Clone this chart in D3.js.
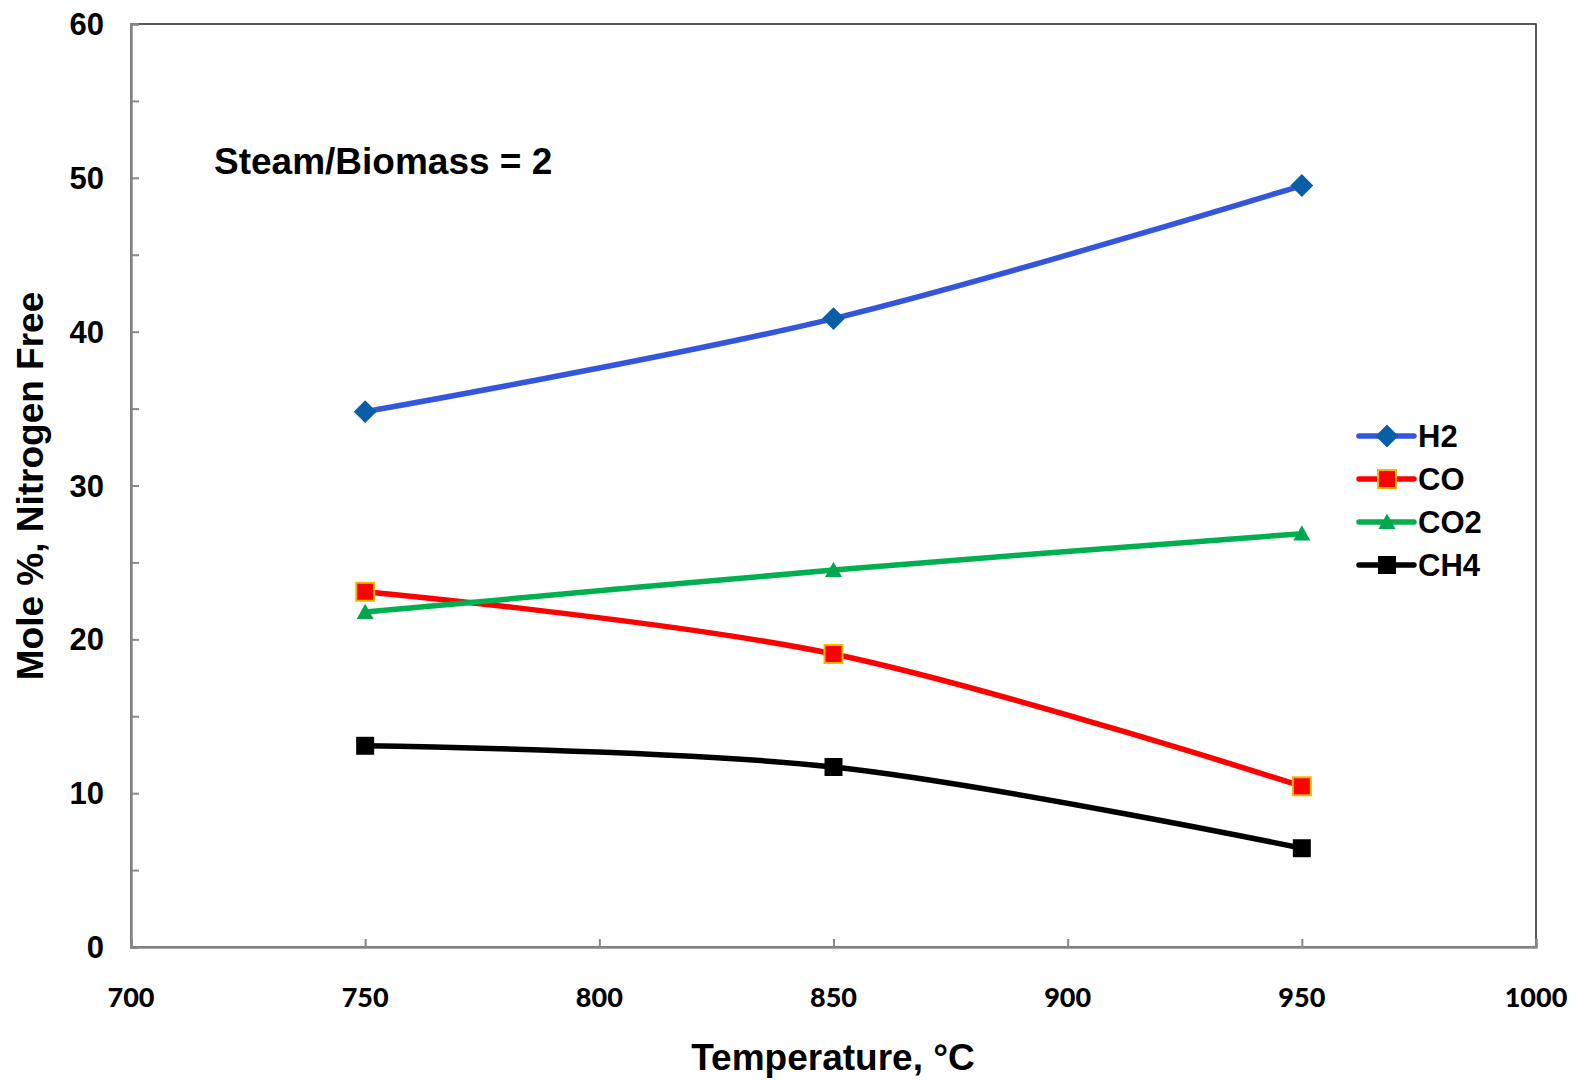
<!DOCTYPE html>
<html><head><meta charset="utf-8">
<script src="https://cdn.jsdelivr.net/npm/d3@7"></script>
<style>
html,body{margin:0;padding:0;background:#fff;}
svg text{font-family:"Liberation Sans",Arial,sans-serif;font-weight:bold;fill:#000;}
</style></head>
<body>
<svg id="chart" width="1576" height="1081"></svg>
<script>
const temperatures = [750, 850, 950];
const h2 = [34.8, 40.85, 49.5];
const co = [23.1, 19.05, 10.45];
const co2 = [21.77, 24.5, 26.87];
const ch4 = [13.08, 11.7, 6.42];
const seriesNames = ["H2", "CO", "CO2", "CH4"];
const xTicks = [700, 750, 800, 850, 900, 950, 1000];
const yTicks = [0, 10, 20, 30, 40, 50, 60];
const yMinorTicks = [0, 5, 10, 15, 20, 25, 30, 35, 40, 45, 50, 55, 60];
const annotation = "Steam/Biomass = 2";
const xTitle = "Temperature, °C";
const yTitle = "Mole %, Nitrogen Free";

const series = [
  {name: seriesNames[0], values: h2, line: "#3356dd", marker: "diamond", fill: "#0a5ea8", stroke: "#0a5ea8", size: 20},
  {name: seriesNames[1], values: co, line: "#ff0000", marker: "square", fill: "#ff0000", stroke: "#f5b800", size: 18},
  {name: seriesNames[2], values: co2, line: "#00b050", marker: "triangle", fill: "#00a650", stroke: "none", size: 17},
  {name: seriesNames[3], values: ch4, line: "#000000", marker: "square", fill: "#000000", stroke: "none", size: 18}
];

const svg = d3.select("#chart");
const L = 131, R = 1536, T = 24, B = 947;
const x = d3.scaleLinear().domain([700, 1000]).range([L, R]);
const y = d3.scaleLinear().domain([0, 60]).range([B, T]);

svg.append("rect").attr("x", L).attr("y", T).attr("width", R - L).attr("height", B - T)
  .attr("fill", "none").attr("stroke", "#222").attr("stroke-width", 1.5);

const yAxis = d3.axisRight(y).tickValues(yMinorTicks).tickSize(8).tickFormat("");
const gy = svg.append("g").attr("transform", `translate(${L},0)`).call(yAxis);
gy.select(".domain").attr("stroke", "#888").attr("stroke-width", 2.5);
gy.selectAll(".tick line").attr("stroke", "#888").attr("stroke-width", 2);

svg.append("g").selectAll("text").data(yTicks).join("text")
  .attr("x", 104).attr("y", d => y(d)).attr("dy", "0.36em")
  .attr("text-anchor", "end").style("font-size", "31px").text(d => d);

const xAxis = d3.axisTop(x).tickValues(xTicks).tickSize(8).tickFormat("");
const gx = svg.append("g").attr("transform", `translate(0,${B})`).call(xAxis);
gx.select(".domain").attr("stroke", "#888").attr("stroke-width", 2.5);
gx.selectAll(".tick line").attr("stroke", "#888").attr("stroke-width", 2);

svg.append("g").selectAll("text").data(xTicks).join("text")
  .attr("x", d => x(d)).attr("y", 1007)
  .attr("text-anchor", "middle")
  .style("font-family", "Lato, 'Open Sans', sans-serif").style("font-weight", "900").style("font-size", "27px")
  .text(d => d);

svg.append("text").attr("x", 833).attr("y", 1070).attr("text-anchor", "middle")
  .style("font-size", "37px").text(xTitle);
svg.append("text").attr("transform", "translate(43,486) rotate(-90)").attr("text-anchor", "middle")
  .style("font-size", "37px").text(yTitle);
svg.append("text").attr("x", 214).attr("y", 174).style("font-size", "37px").text(annotation);

function markerPath(type, size) {
  const s = size / 2;
  if (type === "diamond") return `M0,${-s}L${s},0L0,${s}L${-s},0Z`;
  if (type === "square") return `M${-s},${-s}H${s}V${s}H${-s}Z`;
  if (type === "triangle") { const h = size * 0.9; return `M0,${-h*0.55}L${s},${h*0.45}L${-s},${h*0.45}Z`; }
}

const line = d3.line().x((d, i) => x(temperatures[i])).y(d => y(d)).curve(d3.curveCatmullRom.alpha(0));

series.forEach(s => {
  svg.append("path").datum(s.values).attr("d", line)
    .attr("fill", "none").attr("stroke", s.line).attr("stroke-width", 5.5).attr("stroke-linecap", "round");
});
series.forEach(s => {
  svg.append("g").selectAll("path").data(s.values).join("path")
    .attr("transform", (d, i) => `translate(${x(temperatures[i])},${y(d)})`)
    .attr("d", markerPath(s.marker, s.size))
    .attr("fill", s.fill).attr("stroke", s.stroke).attr("stroke-width", s.stroke === "none" ? 0 : 2);
});

const legendY = [436, 479, 522, 565];
series.forEach((s, i) => {
  const g = svg.append("g").attr("transform", `translate(0,${legendY[i]})`);
  g.append("line").attr("x1", 1359).attr("x2", 1414).attr("y1", 0).attr("y2", 0)
    .attr("stroke", s.line).attr("stroke-width", 5.5).attr("stroke-linecap", "round");
  g.append("path").attr("transform", "translate(1387,0)").attr("d", markerPath(s.marker, s.size))
    .attr("fill", s.fill).attr("stroke", s.stroke).attr("stroke-width", s.stroke === "none" ? 0 : 2);
  g.append("text").attr("x", 1418).attr("y", 0).attr("dy", "0.36em").style("font-size", "31px").text(s.name);
});
</script>
</body></html>
